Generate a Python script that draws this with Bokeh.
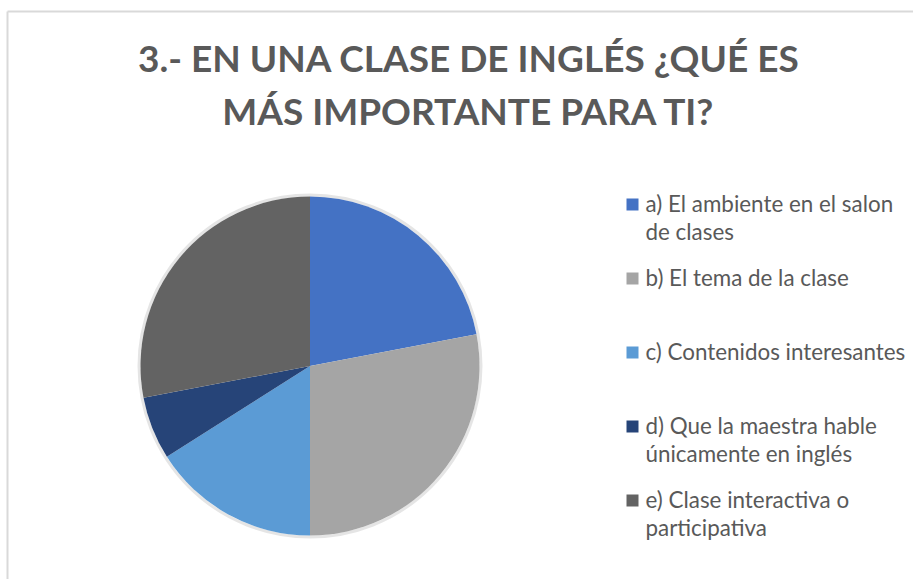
import numpy as np
from bokeh.plotting import figure
from bokeh.models import Range1d, ColumnDataSource
from bokeh.core.properties import value
from bokeh.embed import file_html
from bokeh.resources import INLINE

# ---- data ----
title_lines = ["3.- EN UNA CLASE DE INGLÉS ¿QUÉ ES", "MÁS IMPORTANTE PARA TI?"]
categories = [
    "a) El ambiente en el salon\nde clases",
    "b) El tema de la clase",
    "c) Contenidos interesantes",
    "d) Que la maestra hable\núnicamente en inglés",
    "e) Clase interactiva o\nparticipativa",
]
counts = [11, 14, 8, 3, 14]
colors = ["#4472C4", "#A5A5A5", "#5B9BD5", "#264478", "#636363"]

# ---- layout (picture pixels, origin top-left) ----
W, H = 913, 579
def sx(x):
    return x
def sy(y):
    return H - y

TEXT = "#595959"
FONT = "Lato"

p = figure(width=W, height=H, x_range=Range1d(0, W), y_range=Range1d(0, H),
           output_backend="svg", toolbar_location=None, min_border=0,
           x_axis_type=None, y_axis_type=None)
p.outline_line_color = None
p.background_fill_color = "white"
p.border_fill_color = "white"

# chart frame
p.segment(x0=[sx(7), sx(7)], y0=[sy(11), sy(11)], x1=[sx(930), sx(7)], y1=[sy(11), sy(600)],
          line_color="#D9D9D9", line_width=2)

# pie
cx, cy, R = sx(309.5), sy(365.5), 169.5
vals = np.array(counts, dtype=float)
frac = vals / vals.sum()
cum = np.cumsum(frac)
prev = np.concatenate([[0.0], cum[:-1]])
src = ColumnDataSource(dict(
    start=np.pi / 2 - 2 * np.pi * prev,
    end=np.pi / 2 - 2 * np.pi * cum,
    color=colors,
))
p.circle(x=[cx], y=[cy], radius=R + 1.5, radius_units="screen", fill_color=None,
         line_color="#000000", line_alpha=0.10, line_width=3)
p.wedge(x=cx, y=cy, radius=R, radius_units="screen", start_angle="start", end_angle="end",
        direction="clock", fill_color="color", line_color=None, source=src)

# title
p.text(x=[sx(468.5)] * 2, y=[sy(57), sy(110)], text=title_lines,
       text_align="center", text_baseline="alphabetic", text_color=TEXT,
       text_font=value(FONT), text_font_style="bold", text_font_size="37px")

# legend
sq_x, sq_y, tx, ty, tt = [], [], [], [], []
for i, lab in enumerate(categories):
    base = 211.5 + 74 * i
    sq_x.append(sx(632))
    sq_y.append(sy(base - 7.5))
    for j, line in enumerate(lab.split("\n")):
        tx.append(sx(645))
        ty.append(sy(base - 9 + 28.5 * j))
        tt.append(line)
p.rect(x=sq_x, y=sq_y, width=12, height=12, width_units="screen", height_units="screen",
       fill_color=colors, line_color=None)
p.text(x=tx, y=ty, text=tt, text_align="left", text_baseline="alphabetic", text_color=TEXT,
       text_font=value(FONT), text_font_size="22.4px")

open("out.html", "w").write(file_html(p, INLINE))
